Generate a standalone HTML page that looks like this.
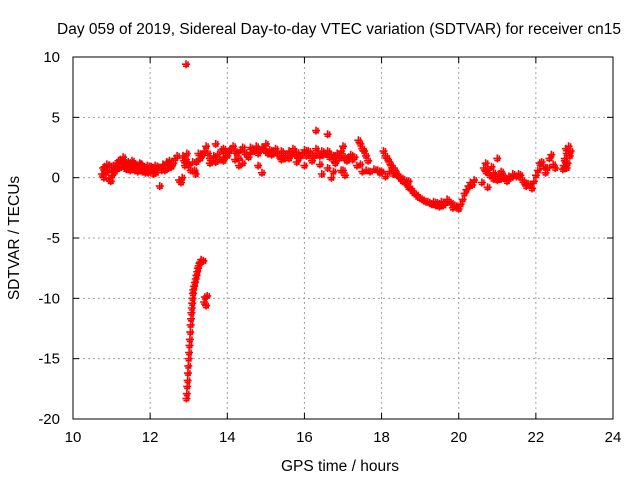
<!DOCTYPE html>
<html><head><meta charset="utf-8"><style>
body{margin:0;background:#fff;}
svg{display:block;font-family:"Liberation Sans",sans-serif;}
</style></head><body>
<svg id="chart" width="640" height="480" viewBox="0 0 640 480">
<text x="339" y="34" font-size="15.5" text-anchor="middle">Day 059 of 2019, Sidereal Day-to-day VTEC variation (SDTVAR) for receiver cn15</text>
<g id="grid"></g>
<g id="ticks"></g>
<rect x="73" y="57" width="540" height="362" fill="none" stroke="#000" stroke-width="1"/>
<g id="marks"></g>
<text x="340" y="471" font-size="15.5" text-anchor="middle">GPS time / hours</text>
<text transform="translate(19,238) rotate(-90)" font-size="15.5" text-anchor="middle">SDTVAR / TECUs</text>
</svg>
<script>
const xTicks=[10,12,14,16,18,20,22,24];
const yTicks=[10,5,0,-5,-10,-15,-20];
const times=[10.75,10.78,10.8,10.82,10.85,10.88,10.9,10.93,10.95,10.98,11.0,11.02,11.05,11.08,11.1,11.13,11.15,11.18,11.2,11.23,11.25,11.28,11.3,11.33,11.35,11.38,11.4,11.43,11.45,11.48,11.5,11.53,11.55,11.58,11.6,11.63,11.65,11.68,11.7,11.73,11.75,11.78,11.8,11.83,11.85,11.88,11.9,11.93,11.95,11.98,12.0,12.03,12.05,12.08,12.1,12.13,12.15,12.18,12.2,12.25,12.3,12.33,12.35,12.38,12.4,12.43,12.45,12.48,12.5,12.53,12.55,
12.6,12.65,12.7,12.75,12.8,12.83,12.85,12.88,12.9,12.93,12.95,13.0,13.05,13.1,13.15,13.18,13.2,13.25,13.3,13.35,13.4,13.45,13.5,13.55,13.6,13.65,13.7,13.75,13.8,13.85,13.9,13.95,14.0,14.05,14.1,14.15,14.2,14.25,14.3,14.35,14.4,14.45,14.5,14.55,14.6,14.65,14.7,14.75,14.8,14.85,14.9,14.95,15.0,15.05,15.1,15.15,15.2,15.25,15.3,15.35,15.4,15.45,15.5,15.55,15.6,15.65,15.7,15.75,15.8,15.85,15.9,15.95,16.0,16.05,16.1,16.15,16.2,16.25,16.3,16.35,16.4,16.45,16.5,16.55,16.6,16.65,16.7,16.75,16.8,16.85,16.9,16.95,17.0,17.05,17.1,17.15,17.2,17.25,17.3,
13.55,13.7,13.9,14.0,14.2,14.4,14.6,14.8,15.0,15.2,15.4,15.6,15.8,16.0,16.2,16.4,16.6,16.8,17.0,14.3,14.9,13.9,
16.45,16.3,16.6,17.0,17.05,16.95,16.7,16.75,
17.36,17.4,17.45,17.5,17.55,17.6,17.65,
17.45,17.5,17.6,17.7,17.8,17.9,18.0,
17.96,18.05,18.1,18.15,18.2,18.25,18.3,18.35,18.4,18.45,18.5,18.55,18.6,18.65,18.7,18.75,18.8,18.85,18.9,18.95,19.0,19.05,19.1,19.15,19.2,19.25,19.3,19.35,19.4,19.45,19.5,19.55,19.6,19.65,19.7,19.75,19.8,19.85,19.9,19.95,20.0,20.05,20.1,20.15,20.2,20.25,20.3,20.35,20.4,
18.1,18.2,18.3,18.4,18.5,18.6,18.7,
20.6,20.65,20.7,20.75,20.8,20.85,20.9,20.95,21.0,21.05,21.1,21.15,21.2,21.25,21.3,21.35,21.4,21.45,21.5,21.55,21.6,21.65,21.7,21.75,21.8,21.85,21.9,21.95,22.0,22.05,22.1,22.15,22.2,22.25,22.3,22.35,22.4,22.45,22.5,20.7,20.75,21.1,21.0,20.9,
22.7,22.72,22.75,22.78,22.8,22.82,22.85,22.88,22.9,22.75,22.8,
12.95,
12.93,12.94,12.95,12.96,12.97,12.98,12.99,13.0,13.01,13.02,13.03,13.04,13.05,13.06,13.07,13.08,13.09,13.1,13.11,13.12,13.14,13.16,13.18,13.2,13.22,13.24,13.26,13.28,13.3,13.32,
13.38,13.4,13.42,13.45,13.48];
const values=[0.3,0.8,0.0,0.9,0.4,1.1,0.6,-0.1,1.0,-0.3,0.6,0.2,1.0,0.5,0.7,1.2,0.9,1.4,0.8,1.5,1.4,1.1,1.7,1.3,1.2,0.7,0.8,1.3,1.0,0.6,0.9,1.4,1.2,0.7,0.6,1.1,1.0,0.5,0.7,1.2,1.1,0.6,0.5,0.9,0.9,0.4,0.6,1.0,0.4,0.7,0.5,0.9,0.8,0.3,0.6,1.0,0.4,0.8,0.9,-0.7,0.6,1.1,1.0,0.6,0.7,1.3,1.2,0.8,1.4,1.0,0.9,
1.2,1.6,1.8,-0.2,-0.4,0.0,1.8,1.4,1.0,1.5,1.2,1.0,0.6,1.3,0.6,0.3,1.3,2.0,1.6,1.9,2.2,2.6,2.0,1.6,1.4,1.8,1.3,1.9,1.5,2.3,1.7,2.0,1.8,2.2,2.4,2.6,2.2,2.0,1.6,2.3,2.5,2.1,1.9,1.7,2.1,2.4,2.2,2.6,2.0,2.3,2.5,2.4,2.2,2.0,2.3,1.9,2.2,2.4,2.0,1.8,2.2,2.0,1.6,1.8,2.2,2.0,2.4,1.9,2.1,1.6,1.8,2.0,2.3,1.8,2.2,2.0,1.6,1.8,2.4,2.0,1.8,2.2,1.9,2.0,2.2,1.7,1.9,1.5,1.8,2.0,1.6,2.2,1.8,1.6,1.4,1.7,1.9,1.5,1.7,1.2,
2.8,2.4,2.0,1.5,1.2,2.5,1.0,2.8,2.0,1.5,1.6,1.3,1.0,1.4,1.1,0.8,1.2,0.6,1.0,0.4,1.4,0.3,
3.9,3.6,2.6,0.2,0.6,0.0,0.5,1.0,
3.1,2.8,2.4,2.2,1.8,1.4,1.1,
0.5,0.6,0.5,0.7,0.6,0.5,0.4,
2.2,1.8,1.6,1.3,1.0,0.8,0.6,0.3,0.1,-0.1,-0.3,-0.4,-0.5,-0.8,-0.9,-1.1,-1.3,-1.4,-1.6,-1.7,-1.8,-1.9,-2.0,-2.0,-2.1,-2.2,-2.0,-2.3,-2.1,-2.4,-2.0,-2.3,-2.1,-1.8,-2.0,-2.1,-2.5,-2.3,-2.4,-2.6,-2.2,-1.8,-1.3,-1.0,-0.7,-0.4,-0.6,-0.2,0.1,
0.5,0.3,0.2,0.0,-0.2,-0.3,-0.4,
0.8,1.2,0.6,0.2,0.9,0.4,0.1,-0.2,0.3,-0.1,0.2,0.0,-0.3,0.1,0.0,0.3,0.2,0.1,0.3,0.2,-0.2,-0.4,-0.7,-0.5,-0.6,-0.9,-0.3,0.2,0.6,1.2,1.3,0.9,0.4,0.8,1.6,1.9,1.1,0.8,0.5,-0.8,0.5,1.6,-0.1,0.7,
1.0,1.6,2.4,2.0,1.2,2.6,1.8,2.2,1.4,0.8,2.0,
9.4,
-18.3,-17.9,-17.3,-16.8,-16.2,-15.6,-15.0,-14.5,-13.9,-13.4,-12.8,-12.2,-11.7,-11.2,-10.8,-10.4,-10.0,-9.6,-9.3,-9.0,-8.7,-8.4,-8.1,-7.8,-7.5,-7.3,-7.1,-7.0,-6.8,-6.9,
-10.3,-9.9,-10.6,-9.8,-10.1];
const X0=73,X1=613,Y0=419,Y1=57;
function xs(t){return X0+(t-10)/14*(X1-X0);}
function ys(v){return Y0-(v+20)/30*(Y0-Y1);}
const NS="http://www.w3.org/2000/svg";
const grid=document.getElementById('grid'),ticks=document.getElementById('ticks'),marks=document.getElementById('marks');
function mk(tag,attrs,parent){const e=document.createElementNS(NS,tag);for(const k in attrs)e.setAttribute(k,attrs[k]);parent.appendChild(e);return e;}
xTicks.forEach(t=>{const x=xs(t);
 if(t>10&&t<24){const g=mk('line',{x1:x,x2:x,y1:Y1,y2:Y0,stroke:'#a0a0a0','stroke-dasharray':'2,3'},grid);
 
 }
 mk('line',{x1:x,x2:x,y1:Y0,y2:Y0-6,stroke:'#000'},ticks);
 mk('line',{x1:x,x2:x,y1:Y1,y2:Y1+6,stroke:'#000'},ticks);
 const l=mk('text',{x:x,y:Y0+23,'font-size':15,'text-anchor':'middle'},ticks);l.textContent=t;
 
 
});
yTicks.forEach(v=>{const y=ys(v);
 if(v>-20&&v<10){const g=mk('line',{x1:X0,x2:X1,y1:y,y2:y,stroke:'#a0a0a0','stroke-dasharray':'2,3'},grid);
 
 }
 mk('line',{x1:X0,x2:X0+6,y1:y,y2:y,stroke:'#000'},ticks);
 mk('line',{x1:X1,x2:X1-6,y1:y,y2:y,stroke:'#000'},ticks);
 const l=mk('text',{x:X0-13,y:y+5,'font-size':15,'text-anchor':'end'},ticks);l.textContent=v;
 
 
});
let d='';
for(let i=0;i<Math.min(times.length,values.length);i++){
 const x=xs(times[i]),y=ys(values[i]);
 d+=`M${(x-4).toFixed(1)},${y.toFixed(1)}h8M${x.toFixed(1)},${(y-4).toFixed(1)}v8`;
 d+=`M${(x-3).toFixed(1)},${(y+2).toFixed(1)}h6M${(x+2).toFixed(1)},${(y-3).toFixed(1)}v6`;
}
const p=mk('path',{d:d,stroke:'#ff0000','stroke-width':1.6,fill:'none'},marks);


</script>
</body></html>
